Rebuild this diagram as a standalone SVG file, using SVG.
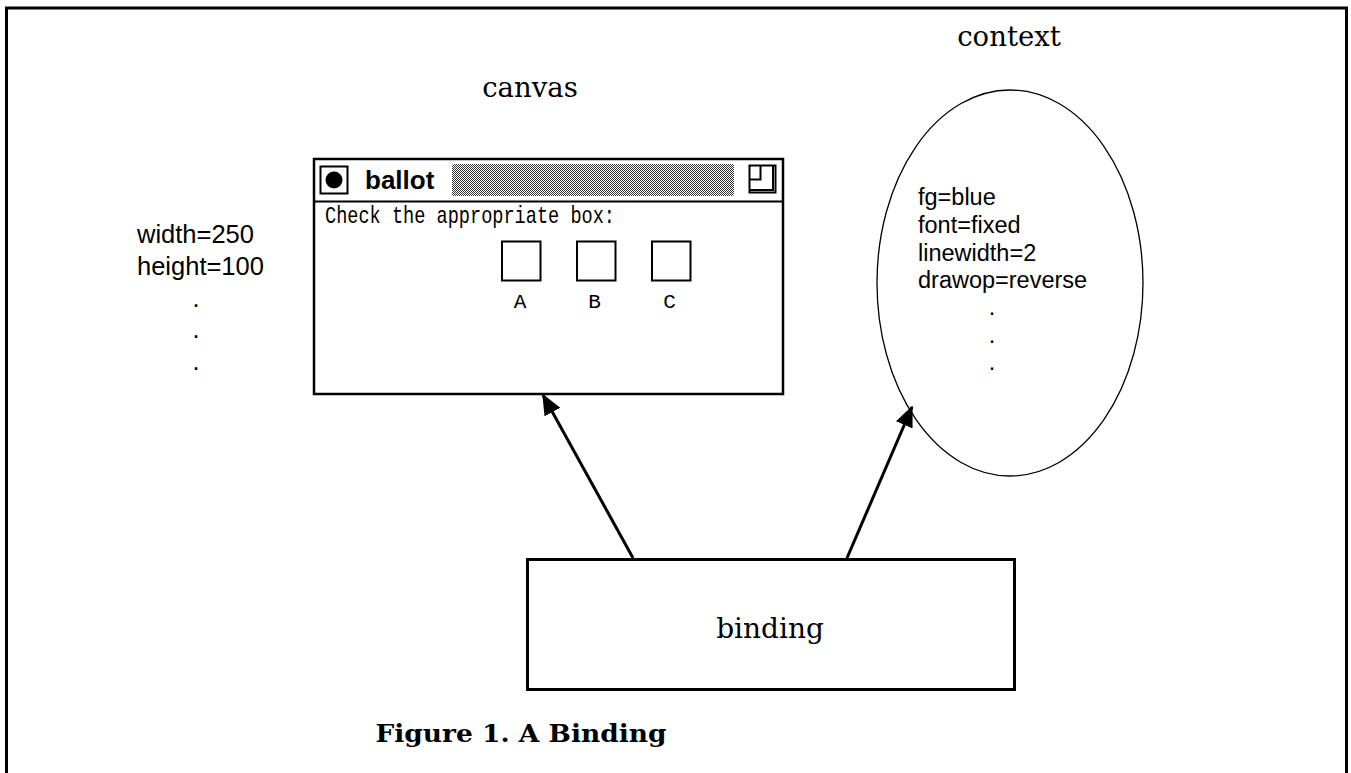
<svg xmlns="http://www.w3.org/2000/svg" width="1351" height="773" viewBox="0 0 1351 773">
<defs>
<style>
.serif{font-family:"DejaVu Serif","Liberation Serif",serif;fill:#000}
.sans{font-family:"Liberation Sans",Arial,sans-serif;fill:#000}
.mono{font-family:"Liberation Mono","DejaVu Sans Mono",monospace;fill:#000}
.box{fill:#fff;stroke:#000}
.conn{stroke:#000;stroke-width:3;fill:none}
</style>
<pattern id="dither" width="2" height="2" patternUnits="userSpaceOnUse">
<rect width="2" height="2" fill="#fff"/>
<rect x="0" y="0" width="1" height="1" fill="#000"/>
<rect x="1" y="1" width="1" height="1" fill="#000"/>
</pattern>
<marker id="arr" markerWidth="7" markerHeight="6" refX="6.5" refY="3" orient="auto" markerUnits="strokeWidth">
<path d="M0,0 L7,3 L0,6 Z" fill="#000"/>
</marker>
</defs>
<rect width="1351" height="773" fill="#fff"/>
<path d="M6.5,780 V8 H1346.5 V780" fill="none" stroke="#000" stroke-width="3"/>

<g id="canvas-label"><text class="serif" x="530" y="97" font-size="27.5" text-anchor="middle">canvas</text></g>
<g id="context-label"><text class="serif" x="1009" y="46" font-size="27.5" text-anchor="middle">context</text></g>

<g id="attrs-canvas">
<text class="sans" x="137" y="243" font-size="25.5">width=250</text>
<text class="sans" x="137" y="275" font-size="25.5">height=100</text>
<text class="sans" x="196" y="307" font-size="25.5" text-anchor="middle">.</text>
<text class="sans" x="196" y="338" font-size="25.5" text-anchor="middle">.</text>
<text class="sans" x="196" y="370" font-size="25.5" text-anchor="middle">.</text>
</g>

<g id="canvas">
<rect class="box" x="314" y="159" width="469" height="235" stroke-width="2.5"/>
<line x1="314" y1="201.5" x2="783" y2="201.5" stroke="#000" stroke-width="2"/>
<rect x="320.5" y="166.5" width="27" height="27" fill="#fff" stroke="#000" stroke-width="2"/>
<circle cx="334" cy="180" r="8.5" fill="#000"/>
<text x="365" y="189" font-family="Liberation Sans,Arial,sans-serif" font-weight="bold" font-size="26">ballot</text>
<rect x="452" y="164" width="282" height="32" rx="2" fill="url(#dither)" opacity="0.8"/>
<rect x="749.5" y="165.5" width="26" height="27" fill="#fff" stroke="#000" stroke-width="2"/>
<path d="M760.5,165.5 V179.5 H749.5 M773,165.5 V190 H749.5" fill="none" stroke="#000" stroke-width="2"/>
<text class="mono" x="325" y="223" font-size="24" textLength="290" lengthAdjust="spacingAndGlyphs">Check the appropriate box:</text>
<rect x="502" y="241.5" width="38.5" height="39" fill="#fff" stroke="#000" stroke-width="2"/>
<rect x="577" y="241.5" width="38.5" height="39" fill="#fff" stroke="#000" stroke-width="2"/>
<rect x="652" y="241.5" width="38.5" height="39" fill="#fff" stroke="#000" stroke-width="2"/>
<text class="mono" x="520" y="308" font-size="21" text-anchor="middle">A</text>
<text class="mono" x="594.5" y="308" font-size="21" text-anchor="middle">B</text>
<text class="mono" x="669.5" y="308" font-size="21" text-anchor="middle">C</text>
</g>

<g id="context">
<ellipse cx="1010" cy="283" rx="133" ry="193" fill="#fff" stroke="#000" stroke-width="1.3"/>
<text class="sans" x="918" y="205" font-size="23.5">fg=blue</text>
<text class="sans" x="918" y="233" font-size="23.5">font=fixed</text>
<text class="sans" x="918" y="261" font-size="23.5">linewidth=2</text>
<text class="sans" x="918" y="288" font-size="23.5">drawop=reverse</text>
<text class="sans" x="992" y="315" font-size="23.5" text-anchor="middle">.</text>
<text class="sans" x="992" y="343" font-size="23.5" text-anchor="middle">.</text>
<text class="sans" x="992" y="370" font-size="23.5" text-anchor="middle">.</text>
</g>

<g id="binding">
<rect class="box" x="527.5" y="559.5" width="487" height="130" stroke-width="3"/>
<text class="serif" x="770" y="638" font-size="28" text-anchor="middle">binding</text>
</g>

<g id="connectors">
<line class="conn" x1="633" y1="558" x2="543" y2="395" marker-end="url(#arr)"/>
<line class="conn" x1="847" y1="558" x2="912" y2="407" marker-end="url(#arr)"/>
</g>

<g id="caption">
<text class="serif" x="521" y="742" font-size="25" font-weight="bold" font-stretch="condensed" text-anchor="middle" textLength="291" lengthAdjust="spacingAndGlyphs">Figure 1. A Binding</text>
</g>
</svg>
